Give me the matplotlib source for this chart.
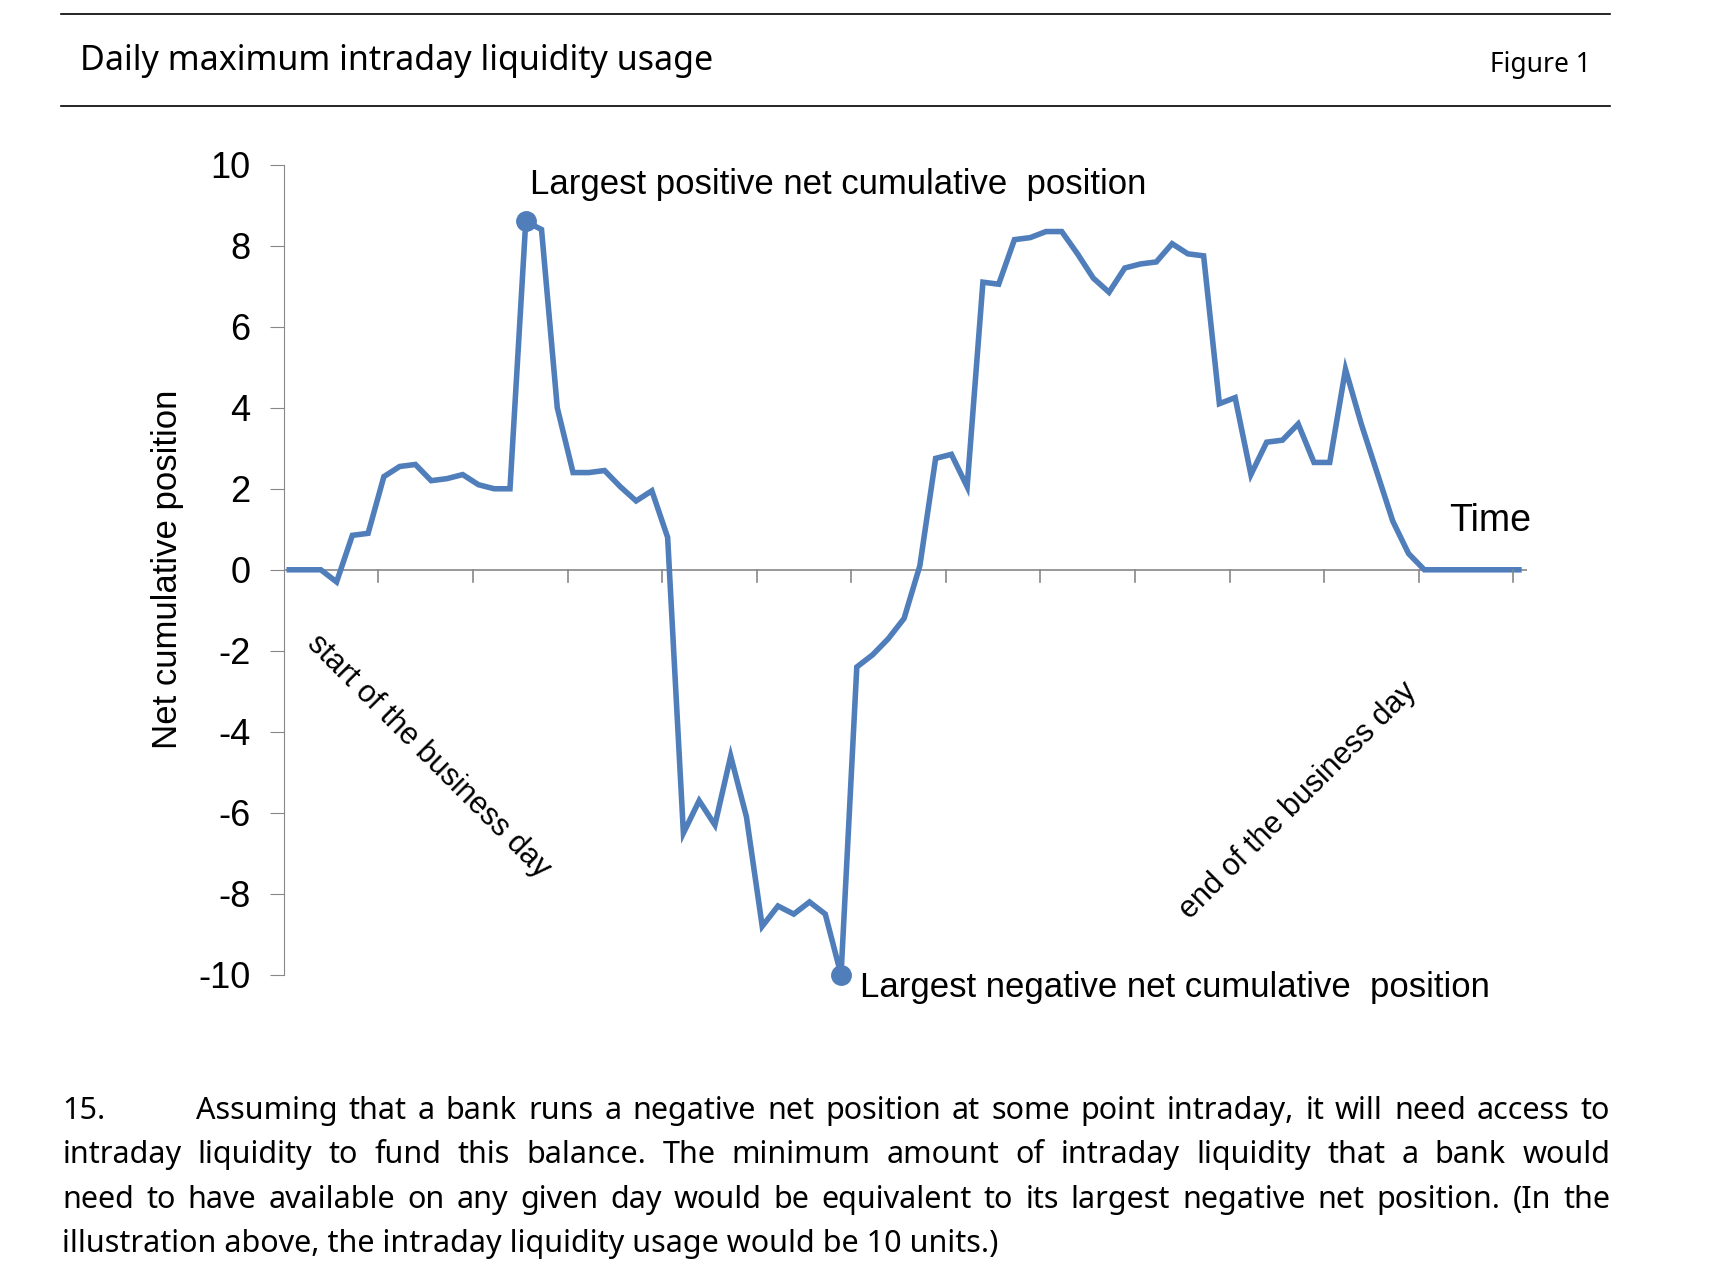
import matplotlib
matplotlib.use('Agg')
import matplotlib.pyplot as plt
from matplotlib.lines import Line2D

# net cumulative position, one point per interval
position = [0, 0, 0, -0.3, 0.85, 0.9, 2.3, 2.55, 2.6, 2.2, 2.25, 2.35, 2.1, 2.0, 2.0,
            8.6, 8.4, 4.0, 2.4, 2.4, 2.45, 2.05, 1.7, 1.95, 0.8,
            -6.5, -5.7, -6.3, -4.6, -6.1, -8.8, -8.3, -8.5, -8.2, -8.5, -10.0,
            -2.4, -2.1, -1.7, -1.2, 0.1, 2.75, 2.85, 2.05, 7.1, 7.05, 8.15, 8.2,
            8.35, 8.35, 7.8, 7.2, 6.85, 7.45, 7.55, 7.6, 8.05, 7.8, 7.75,
            4.1, 4.25, 2.35, 3.15, 3.2, 3.6, 2.65, 2.65, 4.95, 3.6, 2.4, 1.2, 0.4,
            0, 0, 0, 0, 0, 0, 0]
yticks = [10, 8, 6, 4, 2, 0, -2, -4, -6, -8, -10]
peak_idx = 15
trough_idx = 35

para_lines = [
    "Assuming that a bank runs a negative net position at some point intraday, it will need access to",
    "intraday liquidity to fund this balance. The minimum amount of intraday liquidity that a bank would",
    "need to have available on any given day would be equivalent to its largest negative net position. (In the",
    "illustration above, the intraday liquidity usage would be 10 units.)",
]

W, H = 1560, 1143  # layout measured in these units
fig = plt.figure(figsize=(17.36, 12.72), dpi=100)
blue = '#4F7EBB'
chart_font = 'Liberation Sans'
text_font = 'Noto Sans'

# header rules and titles
fig.add_artist(Line2D([55 / W, 1447 / W], [1 - 13 / H] * 2, color='black', lw=1.2))
fig.add_artist(Line2D([55 / W, 1447 / W], [1 - 95 / H] * 2, color='black', lw=1.2))
fig.text(72 / W, 1 - 55 / H, 'Daily maximum intraday liquidity usage', fontsize=24.5,
         family=text_font, va='center')
fig.text(1430 / W, 1 - 58 / H, 'Figure 1', fontsize=19, family=text_font, va='center', ha='right')

ax = fig.add_axes([255 / W, 1 - 876 / H, (1372 - 255) / W, (876 - 148) / H])
x = list(range(len(position)))
ax.plot(x, position, color=blue, lw=4, solid_joinstyle='miter')
ax.plot([x[peak_idx]], [position[peak_idx]], 'o', color=blue, ms=14, clip_on=False)
ax.plot([x[trough_idx]], [position[trough_idx]], 'o', color=blue, ms=14, clip_on=False)

ax.set_xlim(-0.35, 78.5)
ax.set_ylim(-10, 10)
for s in ['top', 'right', 'bottom']:
    ax.spines[s].set_visible(False)
ax.spines['left'].set_color('#888888')
ax.axhline(0, color='#888888', lw=1.2, zorder=0)
ax.set_xticks([])
ax.set_yticks(yticks)
ax.set_yticklabels([str(v) for v in yticks], fontsize=26, family=chart_font)
ax.tick_params(axis='y', direction='out', length=10, color='#888888', pad=14)
for k in range(13):
    tx = 5.65 + 6 * k
    ax.plot([tx, tx], [0, -0.3], color='#888888', lw=1.2, clip_on=False)
ax.set_ylabel('Net cumulative position', fontsize=25, family=chart_font, labelpad=10)

ax.text(x[peak_idx] + 0.3, 9.1, 'Largest positive net cumulative  position', fontsize=25,
        family=chart_font, va='bottom', ha='left')
ax.text(x[trough_idx] + 1.2, -10.3, 'Largest negative net cumulative  position', fontsize=25,
        family=chart_font, va='center', ha='left')
ax.text(76.2, 1.2, 'Time', fontsize=27, family=chart_font, ha='center', va='center')
ax.text(8.8, -4.6, 'start of the business day', fontsize=22, family=chart_font,
        rotation=-45, rotation_mode='anchor', ha='center', va='center')
ax.text(64.0, -5.7, 'end of the business day', fontsize=22, family=chart_font,
        rotation=45, rotation_mode='anchor', ha='center', va='center')

# justified paragraph
fs = 22
left, right = 56 / W, 1447 / W
fig.text(left, 1 - 998 / H, '15.', fontsize=fs, family=text_font, va='center')
fig.canvas.draw()
renderer = fig.canvas.get_renderer()
fig_w = fig.bbox.width
for n, line in enumerate(para_lines):
    yy = 1 - (998 + 40 * n) / H
    start = 176 / W if n == 0 else left
    words = line.split(' ')
    if n == len(para_lines) - 1:
        fig.text(start, yy, line, fontsize=fs, family=text_font, va='center')
        continue
    widths = []
    for w in words:
        t = fig.text(0, 0, w, fontsize=fs, family=text_font)
        widths.append(t.get_window_extent(renderer).width / fig_w)
        t.remove()
    gap = (right - start - sum(widths)) / (len(words) - 1)
    cx = start
    for w, wd in zip(words, widths):
        fig.text(cx, yy, w, fontsize=fs, family=text_font, va='center')
        cx += wd + gap

fig.savefig('out.png', dpi=100)
